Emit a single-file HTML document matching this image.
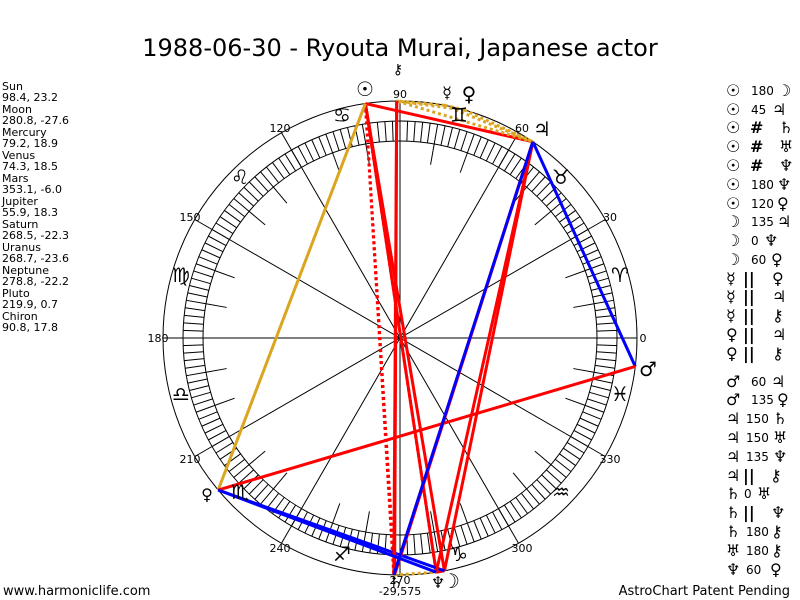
<!DOCTYPE html>
<html><head><meta charset="utf-8"><style>
body{margin:0;background:#fff;width:800px;height:600px;overflow:hidden;font-family:"DejaVu Sans",sans-serif}
svg{position:absolute;left:0;top:0}
.g{font-family:"DejaVu Sans",sans-serif}
</style></head><body>
<svg id="s" width="800" height="600" xmlns="http://www.w3.org/2000/svg">
<text x="400" y="56" text-anchor="middle" font-size="24" font-family="DejaVu Sans,sans-serif">1988-06-30 - Ryouta Murai, Japanese actor</text>
<g font-size="11" font-family="DejaVu Sans,sans-serif">
<text x="2" y="90">Sun</text><text x="2" y="101">98.4, 23.2</text>
<text x="2" y="113">Moon</text><text x="2" y="124">280.8, -27.6</text>
<text x="2" y="136">Mercury</text><text x="2" y="147">79.2, 18.9</text>
<text x="2" y="159">Venus</text><text x="2" y="170">74.3, 18.5</text>
<text x="2" y="182">Mars</text><text x="2" y="193">353.1, -6.0</text>
<text x="2" y="205">Jupiter</text><text x="2" y="216">55.9, 18.3</text>
<text x="2" y="228">Saturn</text><text x="2" y="239">268.5, -22.3</text>
<text x="2" y="251">Uranus</text><text x="2" y="262">268.7, -23.6</text>
<text x="2" y="274">Neptune</text><text x="2" y="285">278.8, -22.2</text>
<text x="2" y="297">Pluto</text><text x="2" y="308">219.9, 0.7</text>
<text x="2" y="320">Chiron</text><text x="2" y="331">90.8, 17.8</text>
</g>
<text x="3" y="595" font-size="13">www.harmoniclife.com</text>
<text x="790" y="595" font-size="13" text-anchor="end">AstroChart Patent Pending</text>
<g id="chart" fill="none" stroke="#000" stroke-width="1"></g>
<g id="asp" fill="none"></g>
<g font-size="11" text-anchor="middle">
<text x="400" y="98">90</text>
<text x="643" y="342">0</text>
<text x="158" y="342">180</text>
<text x="400" y="584">270</text>
<text x="400" y="595">-29,575</text>
<text x="280" y="132">120</text><text x="522" y="132">60</text>
<text x="190" y="221">150</text><text x="610" y="221">30</text>
<text x="190" y="463">210</text><text x="610" y="463">330</text>
<text x="280" y="552">240</text><text x="522" y="552">300</text>
</g>
<g class="g" font-size="20" text-anchor="middle" fill="#000">
<text x="620" y="282">♈</text><text x="561" y="184">♉</text><text x="459" y="122">♊</text>
<text x="342" y="122">♋</text><text x="240" y="184">♌</text><text x="181" y="282">♍</text>
<text x="181" y="401">♎</text><text x="240" y="499">♏</text><text x="342" y="561">♐</text>
<text x="459" y="561">♑</text><text x="561" y="499">♒</text><text x="620" y="401">♓</text>
</g>
<g class="g" font-size="20" text-anchor="middle" fill="#000">
<text x="365" y="96" font-weight="bold">☉</text>
<text x="398" y="74" font-size="14">⚷</text>
<text x="447" y="98" font-size="16">☿</text>
<text x="469" y="101">♀</text>
<text x="542" y="136">♃</text>
<text x="648" y="376">♂</text>
<text x="207" y="500" font-size="16">♀</text>
<text x="396" y="588" font-size="16">♄</text>
<text x="438" y="588" font-size="16">♆</text>
<text x="451" y="588">☽</text>
</g>
<g class="g" font-size="16" fill="#000">
<text x="726" y="96" font-weight="bold">☉</text><text x="751" y="95" font-size="12">180</text><text x="777" y="96">☽</text>
<text x="726" y="115" font-weight="bold">☉</text><text x="751" y="114" font-size="12">45</text><text x="772" y="115">♃</text>
<text x="726" y="133" font-weight="bold">☉</text><text x="750" y="133" font-weight="bold">#</text><text x="779" y="133">♄</text>
<text x="726" y="152" font-weight="bold">☉</text><text x="750" y="152" font-weight="bold">#</text><text x="779" y="152">♅</text>
<text x="726" y="171" font-weight="bold">☉</text><text x="750" y="171" font-weight="bold">#</text><text x="779" y="171">♆</text>
<text x="726" y="190" font-weight="bold">☉</text><text x="751" y="189" font-size="12">180</text><text x="777" y="190">♆</text>
<text x="726" y="209" font-weight="bold">☉</text><text x="751" y="208" font-size="12">120</text><text x="777" y="209">♀</text>
<text x="726" y="227">☽</text><text x="751" y="226" font-size="12">135</text><text x="777" y="227">♃</text>
<text x="726" y="246">☽</text><text x="751" y="245" font-size="12">0</text><text x="764" y="246">♆</text>
<text x="726" y="265">☽</text><text x="751" y="264" font-size="12">60</text><text x="771" y="265">♀</text>
<text x="726" y="284">☿</text><text x="743" y="284" font-weight="bold">||</text><text x="772" y="284">♀</text>
<text x="726" y="302">☿</text><text x="743" y="302" font-weight="bold">||</text><text x="772" y="302">♃</text>
<text x="726" y="321">☿</text><text x="743" y="321" font-weight="bold">||</text><text x="772" y="321">⚷</text>
<text x="726" y="340">♀</text><text x="743" y="340" font-weight="bold">||</text><text x="772" y="340">♃</text>
<text x="726" y="359">♀</text><text x="743" y="359" font-weight="bold">||</text><text x="772" y="359">⚷</text>
<text x="726" y="387">♂</text><text x="751" y="386" font-size="12">60</text><text x="771" y="387">♃</text>
<text x="726" y="405">♂</text><text x="751" y="404" font-size="12">135</text><text x="777" y="405">♀</text>
<text x="726" y="424">♃</text><text x="746" y="423" font-size="12">150</text><text x="773" y="424">♄</text>
<text x="726" y="443">♃</text><text x="746" y="442" font-size="12">150</text><text x="773" y="443">♅</text>
<text x="726" y="462">♃</text><text x="746" y="461" font-size="12">135</text><text x="773" y="462">♆</text>
<text x="726" y="481">♃</text><text x="743" y="481" font-weight="bold">||</text><text x="770" y="481">⚷</text>
<text x="726" y="499">♄</text><text x="744" y="498" font-size="12">0</text><text x="757" y="499">♅</text>
<text x="726" y="518">♄</text><text x="743" y="518" font-weight="bold">||</text><text x="771" y="518">♆</text>
<text x="726" y="537">♄</text><text x="746" y="536" font-size="12">180</text><text x="771" y="537">⚷</text>
<text x="726" y="556">♅</text><text x="746" y="555" font-size="12">180</text><text x="771" y="556">⚷</text>
<text x="726" y="575">♆</text><text x="746" y="574" font-size="12">60</text><text x="770" y="575">♀</text>
</g>
</svg>
<script>
var NS="http://www.w3.org/2000/svg",cx=400,cy=338;
function P(a,r){a=a*Math.PI/180;return [cx+r*Math.cos(a),cy-r*Math.sin(a)];}
function L(g,p,q,c,w,d){var l=document.createElementNS(NS,"line");l.setAttribute("x1",p[0]);l.setAttribute("y1",p[1]);l.setAttribute("x2",q[0]);l.setAttribute("y2",q[1]);l.setAttribute("stroke",c);l.setAttribute("stroke-width",w);if(d)l.setAttribute("stroke-dasharray",d);g.appendChild(l);}
function C(g,r){var c=document.createElementNS(NS,"circle");c.setAttribute("cx",cx);c.setAttribute("cy",cy);c.setAttribute("r",r);g.appendChild(c);}
var ch=document.getElementById("chart");
C(ch,237);C(ch,217);C(ch,197);
for(var a=0;a<360;a+=2)L(ch,P(a,197),P(a,217),"#000",1);
for(var a=0;a<180;a+=30)L(ch,P(a,237),P(a+180,237),"#000",1);
for(var a=0;a<360;a+=10)if(a%30)L(ch,P(a,176),P(a,197),"#000",1);
var pl={su:98.4,mo:280.8,me:79.2,ve:74.3,ma:353.1,ju:55.9,sa:268.5,ur:268.7,ne:278.8,pl:219.9,ch:90.8};
var R="#f00",B="#00f",G="#daa520",as=document.getElementById("asp");
var A=[["su","mo",R],["su","ju",R],["su","sa",R,"3,3"],["su","ur",R,"3,3"],["su","ne",R,"3,3"],["su","ne",R],["su","pl",G],["mo","ju",R],["mo","ne",R],["mo","pl",B],["me","ve",G,"3,3"],["me","ju",G,"3,3"],["me","ch",G,"3,3"],["ve","ju",G,"3,3"],["ve","ch",G,"3,3"],["ma","ju",B],["ma","pl",R],["ju","sa",R],["ju","ur",R],["ju","ne",R],["ju","ch",G,"3,3"],["sa","ur",R],["sa","ne",G,"3,3"],["sa","ch",R],["ur","ch",R],["ne","pl",B],["ju","sa",B]];
A.forEach(function(x){L(as,P(pl[x[0]],237),P(pl[x[1]],237),x[2],3,x[3]);});
</script>
</body></html>
